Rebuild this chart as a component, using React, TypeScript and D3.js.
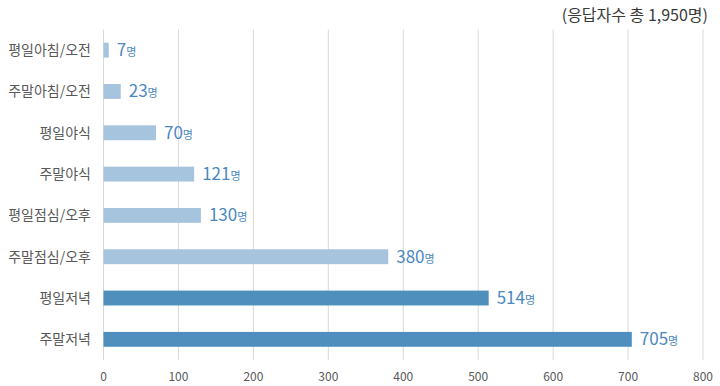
import * as d3 from "d3";
import { useEffect, useRef } from "react";

const categories = [
  "평일아침/오전",
  "주말아침/오전",
  "평일야식",
  "주말야식",
  "평일점심/오후",
  "주말점심/오후",
  "평일저녁",
  "주말저녁",
];
const counts = [7, 23, 70, 121, 130, 380, 514, 705];
const highlighted = ["평일저녁", "주말저녁"];
const xTicks = [0, 100, 200, 300, 400, 500, 600, 700, 800];
const title = "(응답자수 총 1,950명)";

const App = () => {
  const svgRef = useRef(null);

  useEffect(() => {
    const w = 720;
    const h = 386;
    const svg = d3.select(svgRef.current).attr("width", w).attr("height", h);
    svg.selectAll("*").remove();

    const font = "'Noto Sans CJK KR', 'Noto Sans', sans-serif";

    const xScale = d3.scaleLinear().domain([0, 800]).range([103.5, 703]);
    const yScale = d3
      .scaleBand()
      .domain(categories)
      .range([29.5, 360])
      .paddingInner(0.64)
      .paddingOuter(0.32);

    // gridlines
    svg
      .append("g")
      .selectAll("line")
      .data(xTicks)
      .enter()
      .append("line")
      .attr("x1", (d) => xScale(d))
      .attr("x2", (d) => xScale(d))
      .attr("y1", 29.5)
      .attr("y2", 360)
      .attr("stroke", "#d9d9d9")
      .attr("stroke-width", 1);

    // x tick labels
    svg
      .append("g")
      .selectAll("text")
      .data(xTicks)
      .enter()
      .append("text")
      .attr("x", (d) => xScale(d))
      .attr("y", 381)
      .attr("text-anchor", "middle")
      .attr("font-family", font)
      .attr("font-size", 12)
      .attr("fill", "#595959")
      .text((d) => d);

    // bars
    svg
      .append("g")
      .selectAll("rect")
      .data(categories)
      .enter()
      .append("rect")
      .attr("x", xScale(0))
      .attr("y", (d) => yScale(d)!)
      .attr("width", (d, i) => xScale(counts[i]) - xScale(0))
      .attr("height", yScale.bandwidth())
      .attr("fill", (d) => (highlighted.includes(d) ? "#4f8fbe" : "#a6c4dd"));

    // category labels
    svg
      .append("g")
      .selectAll("text")
      .data(categories)
      .enter()
      .append("text")
      .attr("x", 91)
      .attr("y", (d) => yScale(d)! + yScale.bandwidth() / 2 + 5)
      .attr("text-anchor", "end")
      .attr("font-family", font)
      .attr("font-size", 14)
      .attr("fill", "#595959")
      .text((d) => d);

    // value labels
    const labels = svg
      .append("g")
      .selectAll("text")
      .data(categories)
      .enter()
      .append("text")
      .attr("x", (d, i) => xScale(counts[i]) + 8)
      .attr("y", (d) => yScale(d)! + yScale.bandwidth() / 2 + 6)
      .attr("font-family", font)
      .attr("fill", "#4a88be");
    labels
      .append("tspan")
      .attr("font-size", 17)
      .text((d, i) => counts[i]);
    labels
      .append("tspan")
      .attr("font-size", 11)
      .text("명");

    // title
    svg
      .append("text")
      .attr("x", 708)
      .attr("y", 21)
      .attr("text-anchor", "end")
      .attr("font-family", font)
      .attr("font-size", 16)
      .attr("fill", "#3a3a3a")
      .text(title);
  }, []);

  return (
    <div style={{ position: "absolute", left: 0, top: 0 }}>
      <svg ref={svgRef}></svg>
    </div>
  );
};

export default App;
